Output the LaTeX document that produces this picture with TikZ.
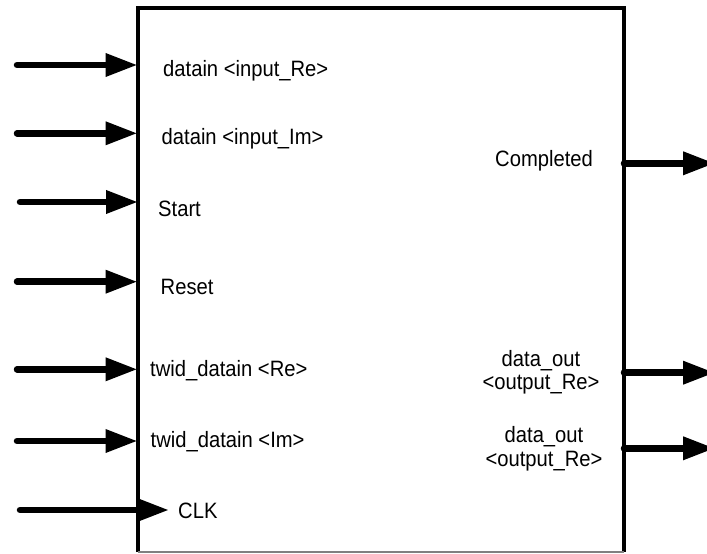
\documentclass[tikz,border=0pt]{standalone}
\usepackage{fontspec}
\setmainfont{Liberation Sans}
\usetikzlibrary{arrows.meta}
% port names are set slightly taller than wide
\newcommand{\portname}[1]{\scalebox{1}[1.1]{#1}}
\begin{document}
\begin{tikzpicture}[x=1pt,y=-1pt,
  boxline/.style={line width=4pt},
  sig/.style={line width=6.5pt,line cap=round,-{Triangle[length=32pt,width=22pt]}},
  outsig/.style={line width=6.5pt,line cap=round,-{Triangle[length=32pt,width=22pt]}},
  lbl/.style={inner sep=0pt,anchor=base west,font=\fontsize{20.2}{24}\selectfont},
  clbl/.style={inner sep=0pt,anchor=base,font=\fontsize{20.2}{24}\selectfont}]
\useasboundingbox (0,0) rectangle (707,554);

% the processing block
\node[minimum width=486.5pt,minimum height=544pt,inner sep=0pt,outer sep=0pt] (blk) at (380.75,280) {};
\draw[boxline] (blk.south west) -- (blk.north west) -- (blk.north east) -- (blk.south east);
\draw[gray,line width=1.5pt] (blk.south west) -- (blk.south east);

% input pins on the left edge
\coordinate (s1) at (17,65);    \coordinate (p1) at (137.5,65);
\coordinate (s2) at (17,133.3); \coordinate (p2) at (137.5,133.3);
\coordinate (s3) at (20,202);   \coordinate (p3) at (138,202);
\coordinate (s4) at (17,281.7); \coordinate (p4) at (137.5,281.7);
\coordinate (s5) at (17,369.3); \coordinate (p5) at (137.5,369.3);
\coordinate (s6) at (17,441);   \coordinate (p6) at (137.5,441);
\coordinate (s7) at (20,510);   \coordinate (p7) at (169,510);

\draw[sig] (s1) -- (p1);
\draw[sig] (s2) -- (p2);
\draw[sig] (s3) -- (p3);
\draw[sig] (s4) -- (p4);
\draw[sig] (s5) -- (p5);
\draw[sig] (s6) -- (p6);
\draw[sig] (s7) -- (p7);

% output pins on the right edge
\coordinate (o1) at (624,163.3); \coordinate (e1) at (715,163.3);
\coordinate (o2) at (624,372.7); \coordinate (e2) at (715,372.7);
\coordinate (o3) at (624,448.3); \coordinate (e3) at (715,448.3);
\draw[outsig] (o1) -- (e1);
\draw[outsig] (o2) -- (e2);
\draw[outsig] (o3) -- (e3);

% port names
\node[lbl] (l1) at (163,76) {\portname{datain <input\_Re>}};
\node[lbl] (l2) at (161.5,144) {\portname{datain <input\_Im>}};
\node[lbl] (l3) at (158,216.7) {\portname{Start}};
\node[lbl] (l4) at (160.5,294) {\portname{Reset}};
\node[lbl] (l5) at (150,376) {\portname{twid\_datain <Re>}};
\node[lbl] (l6) at (150.5,447) {\portname{twid\_datain <Im>}};
\node[lbl] (l7) at (178,518) {\portname{CLK}};
\node[lbl] (l8) at (495,166.7) {\portname{Completed}};
\node[clbl] (l9) at (541,366.7) {\portname{data\_out}};
\node[clbl] (l10) at (541,389) {\portname{<output\_Re>}};
\node[clbl] (l11) at (544,442.7) {\portname{data\_out}};
\node[clbl] (l12) at (544,466) {\portname{<output\_Re>}};
\end{tikzpicture}
\end{document}
